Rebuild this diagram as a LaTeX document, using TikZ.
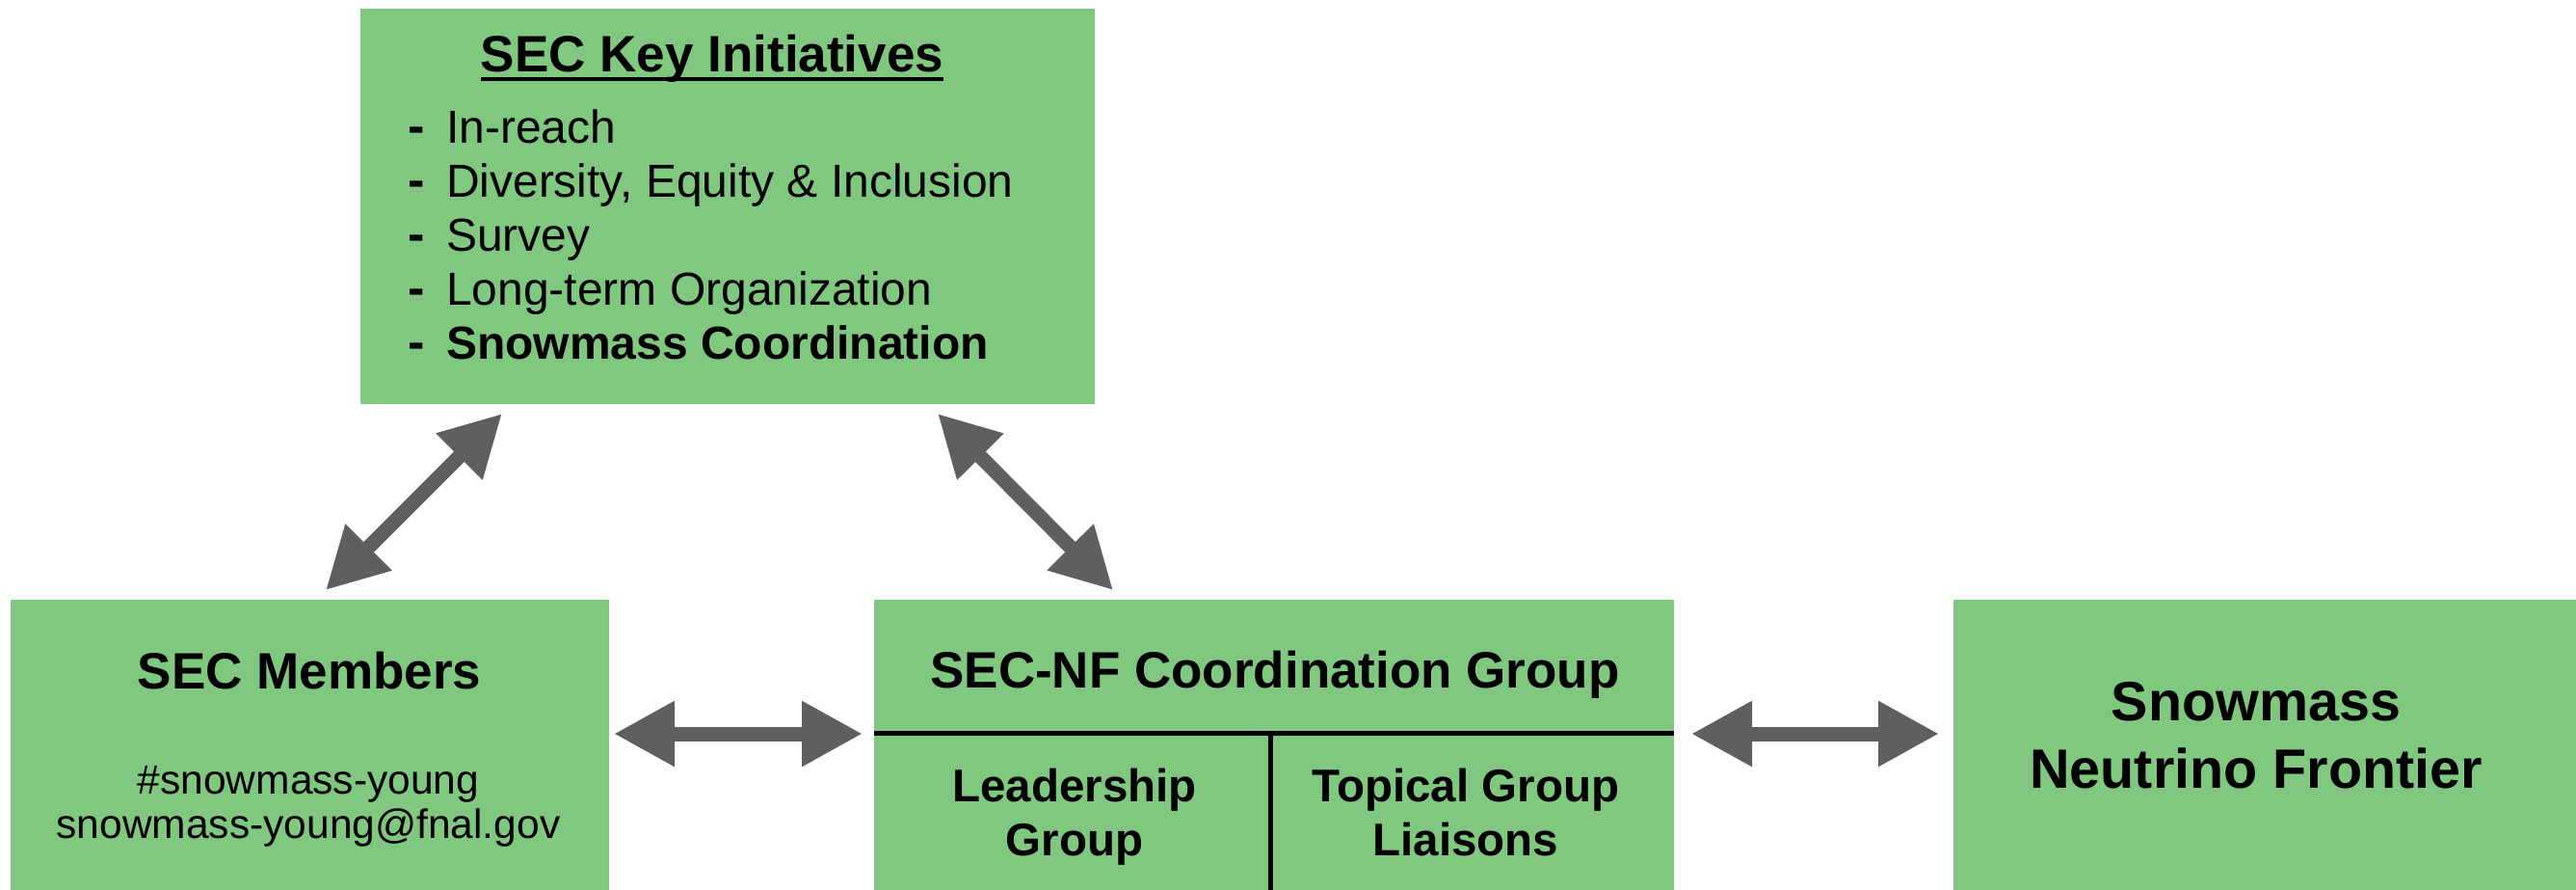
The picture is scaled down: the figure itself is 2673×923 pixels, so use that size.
\documentclass[tikz,border=0pt]{standalone}
\usepackage{fontspec}
\setmainfont{Liberation Sans}
\usetikzlibrary{arrows.meta}
\definecolor{boxgreen}{RGB}{128,200,128}
\definecolor{arrowgrey}{RGB}{95,95,95}
\tikzset{
 box/.style={fill=boxgreen, draw=none, inner sep=0pt, outer sep=0pt, anchor=north west},
 txt/.style={inner sep=0pt, outer sep=0pt, anchor=base, text=black},
 ttl/.style={txt, font=\bfseries\fontsize{53}{60}\selectfont},
 lst/.style={txt, anchor=base west, font=\fontsize{48}{56}\selectfont},
 lstb/.style={txt, anchor=base west, font=\bfseries\fontsize{48}{56}\selectfont},
 dsh/.style={txt, anchor=base west, font=\bfseries\fontsize{52}{56}\selectfont},
 sub/.style={txt, font=\bfseries\fontsize{47.5}{56}\selectfont},
 small/.style={txt, font=\fontsize{42.5}{48}\selectfont},
 big/.style={txt, font=\bfseries\fontsize{57.5}{66}\selectfont},
 dbl/.style={draw=arrowgrey, line width=15pt,
   {Triangle[length=63pt,width=64pt]}-{Triangle[length=63pt,width=64pt]}},
 divider/.style={draw=black, line width=5pt}
}
\begin{document}
\begin{tikzpicture}[x=1pt,y=-1pt]
\useasboundingbox (0,0) rectangle (2673,923);
% boxes
\node[box, minimum width=762pt, minimum height=410pt] (init) at (374,9) {};
\node[box, minimum width=621pt, minimum height=301pt] (members) at (11,622) {};
\node[box, minimum width=830pt, minimum height=301pt] (mid) at (907,622) {};
\node[box, minimum width=646pt, minimum height=301pt] (nf) at (2027,622) {};
% top box text
\node[ttl] (title) at (739,75) {SEC Key Initiatives};
\draw[line width=3.5pt] ([yshift=-7pt]title.base west) -- ([yshift=-7pt]title.base east);
\node[dsh] (d1) at (423,148) {-};
\node[lst] (i1) at (463,148) {In-reach};
\node[dsh] (d2) at (423,204) {-};
\node[lst] (i2) at (463,204) {Diversity, Equity \& Inclusion};
\node[dsh] (d3) at (423,260) {-};
\node[lst] (i3) at (463,260) {Survey};
\node[dsh] (d4) at (423,316) {-};
\node[lst] (i4) at (463,316) {Long-term Organization};
\node[dsh] (d5) at (423,372) {-};
\node[lstb] (i5) at (463,372) {Snowmass Coordination};
% members text
\node[ttl] (memt) at (321,714) {SEC Members};
\node[small] (slack) at (320,823) {\#snowmass-young};
\node[small] (mail) at (320,869) {snowmass-young@fnal.gov};
% middle box text
\node[ttl] (midt) at (1323,713) {SEC-NF Coordination Group};
\node[sub] (lead1) at (1115,831) {Leadership};
\node[sub] (lead2) at (1115,887) {Group};
\node[sub] (top1) at (1521,831) {Topical Group};
\node[sub] (top2) at (1521,887) {Liaisons};
\coordinate (split) at (1318.5,760.5);
\draw[divider] (mid.west |- split) -- (mid.east |- split);
\draw[divider, line width=4.5pt] (split) -- (mid.south -| split);
% NF text
\node[big] (nf1) at (2341,747) {Snowmass};
\node[big] (nf2) at (2341,817) {Neutrino Frontier};
% arrows
\coordinate (h1a) at (637,761);
\coordinate (h1b) at (895,761);
\coordinate (h2a) at (1755,761);
\coordinate (h2b) at (2012,761);
\coordinate (g1a) at (338,612);
\coordinate (g1b) at (521,429);
\coordinate (g2a) at (973,429);
\coordinate (g2b) at (1155,612);
\draw[dbl] (h1a) -- (h1b);
\draw[dbl] (h2a) -- (h2b);
\draw[dbl] (g1a) -- (g1b);
\draw[dbl] (g2a) -- (g2b);
\end{tikzpicture}
\end{document}
